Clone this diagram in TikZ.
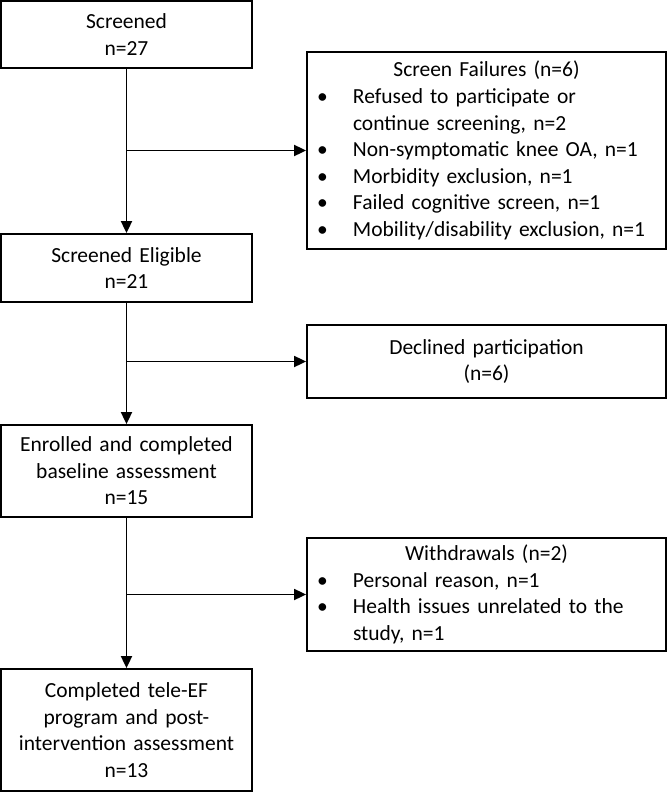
\documentclass[tikz,border=0pt]{standalone}
\usepackage{fontspec}
\setmainfont{Carlito}
\usetikzlibrary{arrows.meta}

\newcommand{\exhead}[1]{\noindent\makebox[\hsize]{#1}\par}
\newcommand{\exitem}[1]{\par\noindent\hangindent=46pt\hangafter=1\makebox[46pt][l]{\hspace{10pt}\textbullet}#1\par}
\newcommand{\exbreak}{\hfil\break}

\begin{document}
\begin{tikzpicture}[x=1pt,y=-1pt,font=\fontsize{21.5}{26.6}\selectfont]
        \tikzstyle{stage}=[rectangle,draw,line width=1.8pt,minimum width=251pt,text width=245pt,align=center,inner sep=0pt]
        \tikzstyle{excl}=[rectangle,draw,line width=1.8pt,minimum width=359pt,text width=359pt,inner sep=0pt]
        \tikzstyle{flow}=[line width=1.8pt,-{Triangle[length=12pt,width=11pt]}]
        \useasboundingbox (0,0) rectangle (668,792);
        \node [stage,minimum height=67pt] (scr) at (126.5, 34.5) {Screened\\n=27};
        \node [stage,minimum height=68pt] (elig) at (126.5, 268) {Screened Eligible\\n=21};
        \node [stage,minimum height=92pt] (enr) at (126.5, 471) {Enrolled and completed\\baseline assessment\\n=15};
        \node [stage,minimum height=122pt] (comp) at (126.5, 730) {Completed tele-EF\\program and post-\\intervention assessment\\n=13};
        \node [excl,minimum height=197pt] (fail) at (486.5, 150.5) {\raggedright
            \exhead{Screen Failures (n=6)}
            \exitem{Refused to participate or\exbreak continue screening, n=2}
            \exitem{Non-symptomatic knee OA, n=1}
            \exitem{Morbidity exclusion, n=1}
            \exitem{Failed cognitive screen, n=1}
            \exitem{Mobility/disability exclusion, n=1}};
        \node [excl,minimum height=73pt,align=center] (decl) at (486.5, 361.5) {Declined participation\\(n=6)};
        \node [excl,minimum height=113pt] (wd) at (486.5, 594.5) {\raggedright
            \exhead{Withdrawals (n=2)}
            \exitem{Personal reason, n=1}
            \exitem{Health issues unrelated to the\exbreak study, n=1}};
        \draw [flow] (scr.south) -- (elig.north);
        \draw [flow] (elig.south) -- (enr.north);
        \draw [flow] (enr.south) -- (comp.north);
        \draw [flow] (scr.south |- fail.west) -- (fail.west);
        \draw [flow] (elig.south |- decl.west) -- (decl.west);
        \draw [flow] (enr.south |- wd.west) -- (wd.west);
    \end{tikzpicture}
\end{document}
